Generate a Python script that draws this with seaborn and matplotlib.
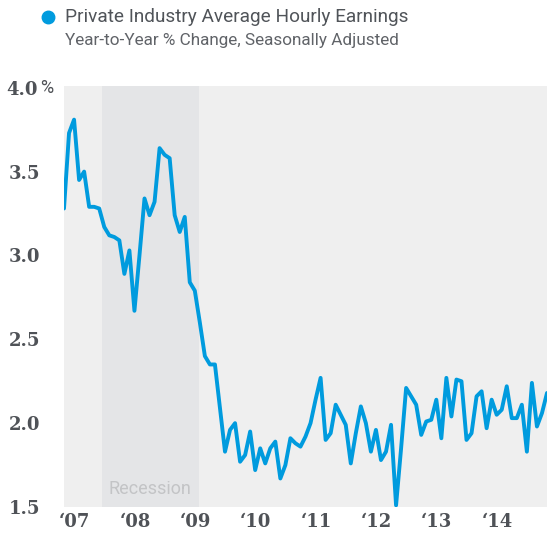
import numpy as np
import pandas as pd
import matplotlib.pyplot as plt
import seaborn as sns
from matplotlib.transforms import ScaledTranslation

# Monthly YoY % change, Jan 2007 .. Jan 2015
earnings = [3.28, 3.73, 3.81, 3.45, 3.50, 3.29, 3.29, 3.28, 3.17, 3.12, 3.11, 3.09,
            2.89, 3.03, 2.67, 3.00, 3.34, 3.24, 3.32, 3.64, 3.60, 3.58, 3.24, 3.14,
            3.23, 2.84, 2.79, 2.60, 2.40, 2.35, 2.35, 2.09, 1.83, 1.96, 2.00, 1.77,
            1.81, 1.95, 1.72, 1.85, 1.76, 1.85, 1.89, 1.67, 1.75, 1.91, 1.88, 1.86,
            1.92, 2.00, 2.14, 2.27, 1.90, 1.94, 2.11, 2.05, 1.99, 1.76, 1.94, 2.10,
            2.00, 1.83, 1.96, 1.78, 1.83, 1.99, 1.51, 1.85, 2.21, 2.16, 2.11, 1.93,
            2.01, 2.02, 2.14, 1.91, 2.27, 2.04, 2.26, 2.25, 1.90, 1.94, 2.16, 2.19,
            1.97, 2.14, 2.05, 2.08, 2.22, 2.03, 2.03, 2.11, 1.83, 2.24, 1.98, 2.06,
            2.18]
month_idx = np.arange(len(earnings))
year_labels = ["\u201807", "\u201808", "\u201809", "\u201810", "\u201811",
               "\u201812", "\u201813", "\u201814"]
y_ticks = [1.5, 2.0, 2.5, 3.0, 3.5, 4.0]
recession = (7.5, 26.8)  # shaded span as drawn on the chart (month index)

df = pd.DataFrame({"month": month_idx, "pct": earnings})

sns.set_style("white")
plt.rcParams["font.family"] = ["Roboto", "DejaVu Sans"]

blue = "#009bde"
tick_col = "#4f5257"

fig = plt.figure(figsize=(5.47, 5.38), dpi=100)
ax = fig.add_axes([0.117, 0.0576, 0.883, 0.7824])
ax.set_facecolor("#efefef")

ax.axvspan(*recession, color="#e4e5e7", lw=0, zorder=0)
ax.text(np.mean(recession), 1.555, "Recession", ha="center", va="bottom",
        fontsize=13, color="#c3c4c6")

sns.lineplot(data=df, x="month", y="pct", ax=ax, color=blue, lw=2.8, zorder=3)

ax.set_xlim(0, 96)
ax.set_ylim(1.5, 4.01)
ax.set_xlabel("")
ax.set_ylabel("")
for s in ax.spines.values():
    s.set_visible(False)
ax.tick_params(length=0)

ax.set_yticks(y_ticks)
ax.set_yticklabels([f"{v:.1f}" for v in y_ticks], family="DejaVu Serif",
                   fontsize=13, fontweight="bold", color=tick_col)
ax.tick_params(axis="y", pad=17)
ylbls = ax.get_yticklabels()
ylbls[-1].set_transform(ylbls[-1].get_transform() + ScaledTranslation(-3 / 100, 0, fig.dpi_scale_trans))
ax.text(-0.049, 4.0, "%", transform=ax.get_yaxis_transform(), ha="left",
        va="center", fontsize=13, color=tick_col)

ax.set_xticks(np.arange(0, 96, 12))
ax.set_xticklabels(year_labels, family="DejaVu Serif", fontsize=13,
                   fontweight="bold", color=tick_col, ha="left")
ax.tick_params(axis="x", pad=4)
for lbl in ax.get_xticklabels():
    lbl.set_transform(lbl.get_transform() + ScaledTranslation(-5 / 100, 0, fig.dpi_scale_trans))

# title block
ax.plot([48 / 547], [1 - 17 / 538], marker="o", ms=9, color=blue,
        transform=fig.transFigure, clip_on=False)
fig.text(65 / 547, 1 - 17 / 538, "Private Industry Average Hourly Earnings",
         ha="left", va="center", fontsize=13.7, color="#505459")
fig.text(65 / 547, 1 - 41 / 538, "Year-to-Year % Change, Seasonally Adjusted",
         ha="left", va="center", fontsize=12.3, color="#606368")

plt.savefig("out.png", dpi=100)
plt.close()
